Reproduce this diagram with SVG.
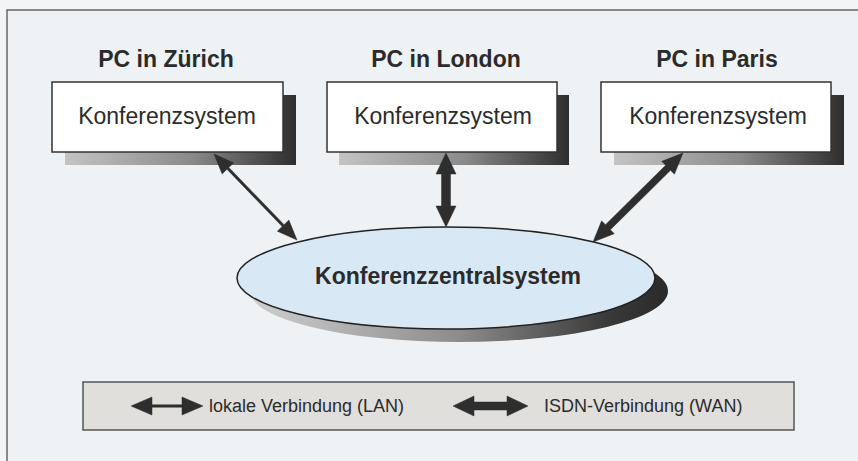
<svg xmlns="http://www.w3.org/2000/svg" width="858" height="461" viewBox="0 0 858 461">
<defs>
<linearGradient id="shadowGrad" x1="0" y1="0" x2="1" y2="0">
<stop offset="0" stop-color="#c4c4c4"/>
<stop offset="0.55" stop-color="#8a8a8a"/>
<stop offset="1" stop-color="#2e2e2e"/>
</linearGradient>
<linearGradient id="ellShadowGrad" x1="0" y1="0" x2="1" y2="0">
<stop offset="0" stop-color="#cfcfcf"/>
<stop offset="0.5" stop-color="#8c8c8c"/>
<stop offset="0.85" stop-color="#3a3a3a"/>
<stop offset="1" stop-color="#2a2a2a"/>
</linearGradient>
</defs>
<style>
.title{font-family:"Liberation Sans",Arial,sans-serif;font-weight:bold;font-size:23px;fill:#2b2b2b;text-anchor:middle}
.boxtext{font-family:"Liberation Sans",Arial,sans-serif;font-size:23px;fill:#2b2b2b;text-anchor:middle}
.box{fill:#ffffff;stroke:#333333;stroke-width:1.5}
.shadow{fill:url(#shadowGrad)}
.arrow{fill:#2e2e2e;stroke:#2e2e2e;stroke-width:0.5;stroke-linejoin:miter}
.legtext{font-family:"Liberation Sans",Arial,sans-serif;font-size:18px;fill:#2b2b2b}
</style>
<rect x="0" y="0" width="858" height="461" fill="#f2f4f5"/>
<rect x="7" y="10" width="900" height="500" fill="#eef2f4" stroke="#666666" stroke-width="1.5"/>

<g id="zuerich">
<text class="title" x="166" y="67">PC in Zürich</text>
<rect class="shadow" x="65" y="95" width="231" height="70"/>
<rect class="box" x="52" y="82" width="231" height="70"/>
<text class="boxtext" x="167" y="124">Konferenzsystem</text>
</g>

<g id="london">
<text class="title" x="446" y="67">PC in London</text>
<rect class="shadow" x="339" y="95" width="230" height="70"/>
<rect class="box" x="327" y="82" width="230" height="70"/>
<text class="boxtext" x="443" y="124">Konferenzsystem</text>
</g>

<g id="paris">
<text class="title" x="717" y="67">PC in Paris</text>
<rect class="shadow" x="614" y="95" width="230" height="70"/>
<rect class="box" x="601" y="82" width="230" height="70"/>
<text class="boxtext" x="718" y="124">Konferenzsystem</text>
</g>

<g id="zentrale">
<ellipse cx="459" cy="291" rx="209" ry="51" fill="url(#ellShadowGrad)"/>
<ellipse cx="446" cy="278" rx="209" ry="51" fill="#d8e9f5" stroke="#222222" stroke-width="1.5"/>
<text class="title" x="448" y="284">Konferenzzentralsystem</text>
</g>

<g id="connectors">
<polygon class="arrow" points="214,154 222.13,173.95 226.95,169.29 282.17,226.51 277.35,231.17 297,240 288.87,220.05 284.05,224.71 228.83,167.49 233.65,162.83"/>
<polygon class="arrow" points="446,153 436,174 441.5,174 441.5,206 436,206 446,227 456,206 450.5,206 450.5,174 456,174"/>
<polygon class="arrow" points="683,153 661.74,161.36 665.61,165.27 605.47,224.75 601.6,220.84 593,242 614.26,233.64 610.39,229.73 670.53,170.25 674.4,174.16"/>
</g>

<g id="legende">
<rect x="83" y="382" width="711" height="48" fill="#e0dfdc" stroke="#555555" stroke-width="1.5"/>
<polygon class="arrow" points="131,406 152,397 152,404.8 182,404.8 182,397 203,406 182,415 182,407.2 152,407.2 152,415"/>
<text class="legtext" x="209" y="412">lokale Verbindung (LAN)</text>
<polygon class="arrow" points="453,406 474,396 474,402 507,402 507,396 528,406 507,416 507,410 474,410 474,416"/>
<text class="legtext" x="544" y="412">ISDN-Verbindung (WAN)</text>
</g>
</svg>
